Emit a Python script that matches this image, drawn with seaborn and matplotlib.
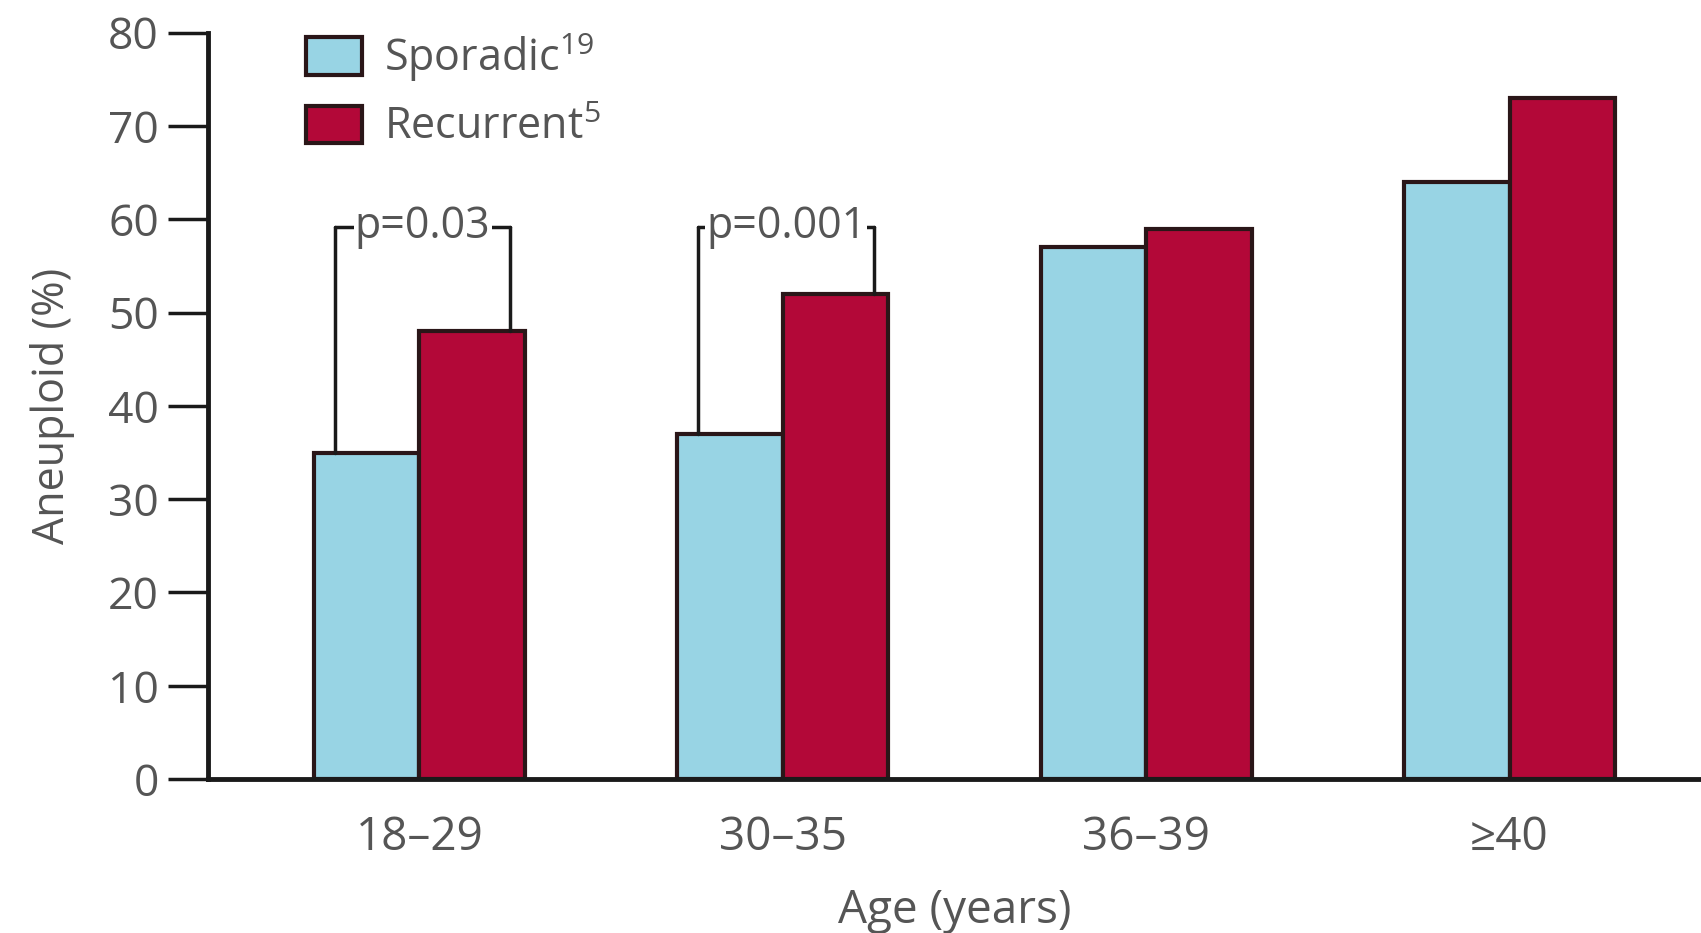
import matplotlib
matplotlib.use("Agg")
import matplotlib.pyplot as plt
import seaborn as sns
import pandas as pd

# data
ages = ["18–29", "30–35", "36–39", "≥40"]
groups = ["Sporadic", "Recurrent"]
sporadic = [35, 37, 57, 64]
recurrent = [48, 52, 59, 73]
group_labels = [r"Sporadic$^{\mathregular{19}}$", r"Recurrent$^{\mathregular{5}}$"]
p_values = ["p=0.03", "p=0.001"]

df = pd.DataFrame({
    "age": ages * 2,
    "group": [groups[0]] * 4 + [groups[1]] * 4,
    "value": sporadic + recurrent,
})

sns.set_style("white")
plt.rcParams["font.family"] = ["Open Sans", "DejaVu Sans"]
plt.rcParams["mathtext.fontset"] = "custom"
plt.rcParams["mathtext.rm"] = "Open Sans"

text_col = "#555555"
edge_col = "#2a1618"

fig = plt.figure(figsize=(17.01, 9.33), dpi=100)
ax = fig.add_axes([0.122, 0.165, 0.878, 0.800])

sns.barplot(ax=ax, data=df, x="age", y="value", hue="group",
            palette=["#98d4e4", "#b30838"], width=0.58, gap=0,
            edgecolor=edge_col, linewidth=3, saturation=1)

ax.set_ylim(0, 80)
ax.set_xlim(-0.583, 3.527)
ax.set_yticks(range(0, 81, 10))
sns.despine(ax=ax, top=True, right=True)
ax.spines["left"].set_linewidth(3.5)
ax.spines["bottom"].set_linewidth(3.5)
ax.spines["left"].set_color("#1a1a1a")
ax.spines["bottom"].set_color("#1a1a1a")
ax.tick_params(axis="y", length=29, width=2.5, color="#1a1a1a", pad=6,
               labelsize=32, labelcolor=text_col, direction="out", left=True)
ax.tick_params(axis="x", length=0, pad=26, labelsize=33, labelcolor=text_col)

ax.set_ylabel("Aneuploid (%)", fontsize=31, color=text_col, labelpad=24)
ax.set_xlabel("Age (years)", fontsize=33, color=text_col, labelpad=19)

# significance brackets
for i, p in enumerate(p_values):
    xl, xr = i - 0.232, i + 0.25
    top = 59.2
    ax.plot([xl, xl], [sporadic[i], top], color="#1a1a1a", lw=2.5)
    ax.plot([xr, xr], [recurrent[i], top], color="#1a1a1a", lw=2.5)
    ax.plot([xl, xr], [top, top], color="#1a1a1a", lw=2.5)
    ax.text((xl + xr) / 2, top, p, ha="center", va="center", fontsize=31,
            color=text_col, bbox=dict(facecolor="white", edgecolor="none", pad=1))

handles, _ = ax.get_legend_handles_labels()
ax.legend(handles, group_labels, loc="upper left", bbox_to_anchor=(0.04, 1.055),
          frameon=False, fontsize=31, labelcolor=text_col, handlelength=1.3,
          handleheight=0.95, handletextpad=0.5, labelspacing=0.5)

fig.savefig("out.png", dpi=100)
